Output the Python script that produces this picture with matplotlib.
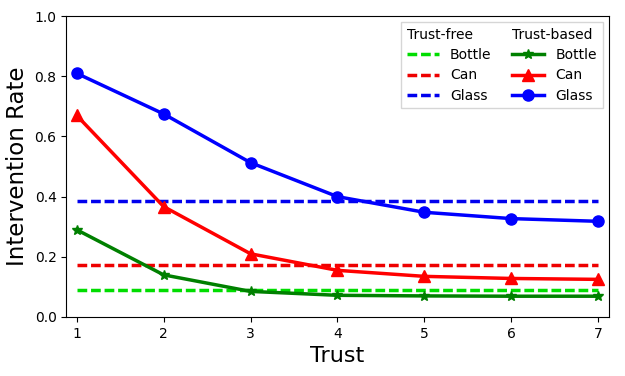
import matplotlib
matplotlib.use("Agg")
import matplotlib.pyplot as plt
from matplotlib.lines import Line2D

trust = [1, 2, 3, 4, 5, 6, 7]

# trust-based intervention rates
bottle_tb = [0.29, 0.14, 0.085, 0.072, 0.070, 0.069, 0.069]
can_tb = [0.67, 0.367, 0.21, 0.155, 0.135, 0.128, 0.125]
glass_tb = [0.81, 0.675, 0.513, 0.40, 0.348, 0.327, 0.318]

# trust-free (constant) intervention rates
bottle_tf = 0.091
can_tf = 0.172
glass_tf = 0.384

LW = 2.5
DASH = (2.8, 1.1)
C_LIME, C_RED_D, C_BLUE_D = "#00dd00", "#ee0000", "#0000ee"

fig = plt.figure(figsize=(6.25, 3.76), dpi=100)
ax = fig.add_axes([0.106, 0.157, 0.868, 0.800])

ax.plot(trust, [bottle_tf] * len(trust), color=C_LIME, lw=LW, ls="--", dashes=DASH)
ax.plot(trust, [can_tf] * len(trust), color=C_RED_D, lw=LW, ls="--", dashes=DASH)
ax.plot(trust, [glass_tf] * len(trust), color=C_BLUE_D, lw=LW, ls="--", dashes=DASH)
ax.plot(trust, bottle_tb, color="green", lw=LW, marker="*", ms=7)
ax.plot(trust, can_tb, color="red", lw=LW, marker="^", ms=8)
ax.plot(trust, glass_tb, color="blue", lw=LW, marker="o", ms=8)

ax.set_xlim(0.88, 7.12)
ax.set_ylim(0.0, 1.0)
ax.set_xticks(trust)
ax.set_yticks([0.0, 0.2, 0.4, 0.6, 0.8, 1.0])
ax.tick_params(labelsize=10)
ax.set_xlabel("Trust", fontsize=16)
ax.set_ylabel("Intervention Rate", fontsize=16.5)

blank = Line2D([], [], color="none")
handles = [
    blank,
    Line2D([], [], color=C_LIME, lw=LW, ls="--", dashes=DASH),
    Line2D([], [], color=C_RED_D, lw=LW, ls="--", dashes=DASH),
    Line2D([], [], color=C_BLUE_D, lw=LW, ls="--", dashes=DASH),
    blank,
    Line2D([], [], color="green", lw=LW, marker="*", ms=7),
    Line2D([], [], color="red", lw=LW, marker="^", ms=8),
    Line2D([], [], color="blue", lw=LW, marker="o", ms=8),
]
labels = ["Trust-free", "Bottle", "Can", "Glass",
          "Trust-based", "Bottle", "Can", "Glass"]
leg = ax.legend(handles, labels, ncol=2, loc="upper right", fontsize=10,
                handlelength=2.3, columnspacing=1.5, labelspacing=0.45,
                fancybox=False, borderpad=0.4, borderaxespad=0.45)
leg.get_frame().set_edgecolor("#cccccc")

# headers: collapse the empty handle so the text sits at the column start
for col in leg._legend_handle_box.get_children():
    first = col.get_children()[0]
    first.get_children()[0].set_width(0)
    first.sep = 0

fig.savefig("out.png", dpi=100)
